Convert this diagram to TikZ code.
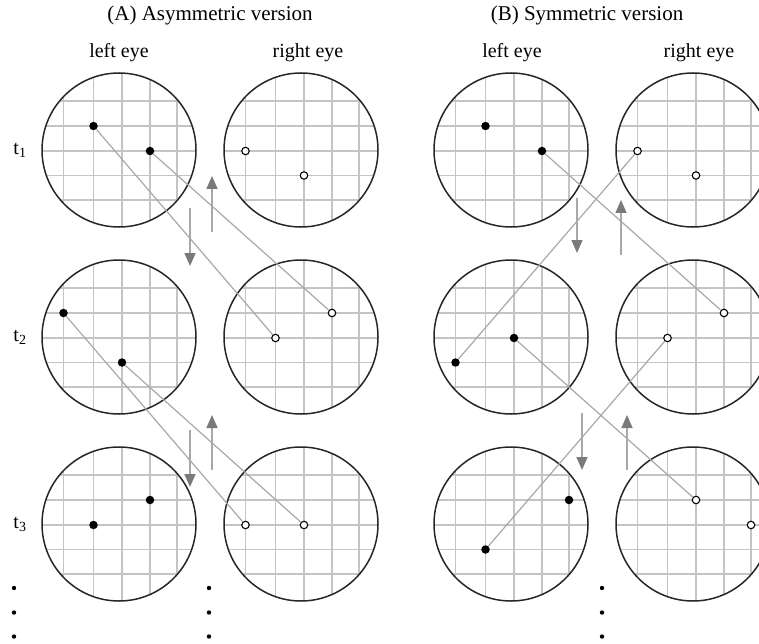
\documentclass[tikz,border=0pt]{standalone}
\usepackage{fontspec}
\setmainfont{Liberation Serif}
\usetikzlibrary{arrows.meta}
\definecolor{GridGray}{HTML}{C4C4C4}
\definecolor{LinkGray}{HTML}{A8A8A8}
\definecolor{ArrowGray}{HTML}{7A7A7A}
\definecolor{RingBlack}{HTML}{262626}

\begin{document}
\begin{tikzpicture}[x=1pt, y=-1pt,
  eye/.pic={
    \begin{scope}
      \clip (0,0) circle[radius=77];
      \foreach \dx in {-55.5,-25.5,3,31,58}
        \draw[GridGray, line width=1.4pt] (\dx,-77) -- (\dx,77);
      \foreach \dy in {-49,-24,1,25.5,50}
        \draw[GridGray, line width=1.4pt] (-77,\dy) -- (77,\dy);
    \end{scope}
    \draw[RingBlack, line width=1.5pt] (0,0) circle[radius=77];
  },
  fdot/.style={circle, fill=black, inner sep=0pt, minimum size=8.5pt},
  odot/.style={circle, draw=black, fill=white, line width=1.1pt, inner sep=0pt, minimum size=7.5pt},
  link/.style={LinkGray, line width=1.2pt},
  move/.style={-{Triangle[length=13pt, width=11pt, color=ArrowGray]}, LinkGray, line width=1.6pt},
  title/.style={font=\fontsize{21}{24}\selectfont},
  eyelabel/.style={font=\fontsize{20}{23}\selectfont},
  tlabel/.style={font=\fontsize{20}{23}\selectfont}
]
\useasboundingbox (0,0) rectangle (759,644);

% headings
\node[title]    (ttla) at (210,15)  {(A) Asymmetric version};
\node[title]    (ttlb) at (587,15)  {(B) Symmetric version};
\node[eyelabel] (lea)  at (119,53)  {left eye};
\node[eyelabel] (rea)  at (308,53)  {right eye};
\node[eyelabel] (leb)  at (512,53)  {left eye};
\node[eyelabel] (reb)  at (699,53)  {right eye};
\node[tlabel]   (t1)   at (20,150)  {t\textsubscript{1}};
\node[tlabel]   (t2)   at (20,337)  {t\textsubscript{2}};
\node[tlabel]   (t3)   at (20,524)  {t\textsubscript{3}};

% eyes
\pic at (119,150) {eye}; \pic at (301,150) {eye};
\pic at (119,337) {eye}; \pic at (301,337) {eye};
\pic at (119,524) {eye}; \pic at (301,524) {eye};
\pic at (511,150) {eye}; \pic at (693,150) {eye};
\pic at (511,337) {eye}; \pic at (693,337) {eye};
\pic at (511,524) {eye}; \pic at (693,524) {eye};

% (A) points
\node[fdot] (a1l1) at (93.5,126) {};
\node[fdot] (a1l2) at (150,151)  {};
\node[odot] (a1r1) at (245.5,151) {};
\node[odot] (a1r2) at (304,175.5) {};
\node[fdot] (a2l1) at (63.5,313) {};
\node[fdot] (a2l2) at (122,362.5) {};
\node[odot] (a2r1) at (275.5,338) {};
\node[odot] (a2r2) at (332,313) {};
\node[fdot] (a3l1) at (93.5,525) {};
\node[fdot] (a3l2) at (150,500) {};
\node[odot] (a3r1) at (245.5,525) {};
\node[odot] (a3r2) at (304,525) {};

% (B) points
\node[fdot] (b1l1) at (485.5,126) {};
\node[fdot] (b1l2) at (542,151) {};
\node[odot] (b1r1) at (637.5,151) {};
\node[odot] (b1r2) at (696,175.5) {};
\node[fdot] (b2l1) at (455.5,362.5) {};
\node[fdot] (b2l2) at (514,338) {};
\node[odot] (b2r1) at (667.5,338) {};
\node[odot] (b2r2) at (724,313) {};
\node[fdot] (b3l1) at (485.5,549.5) {};
\node[fdot] (b3l2) at (569,500) {};
\node[odot] (b3r1) at (696,500) {};
\node[odot] (b3r2) at (751,525) {};

% correspondences
\draw[link] (a1l1) -- (a2r1);
\draw[link] (a1l2) -- (a2r2);
\draw[link] (a2l1) -- (a3r1);
\draw[link] (a2l2) -- (a3r2);
\draw[link] (b1l2) -- (b2r2);
\draw[link] (b1r1) -- (b2l1);
\draw[link] (b2l2) -- (b3r1);
\draw[link] (b2r1) -- (b3l1);

% time arrows
\coordinate (a12d0) at (190,208); \coordinate (a12d1) at (190,266);
\coordinate (a12u0) at (212,232); \coordinate (a12u1) at (212,176);
\coordinate (a23d0) at (190,430); \coordinate (a23d1) at (190,487);
\coordinate (a23u0) at (212,470); \coordinate (a23u1) at (212,415);
\coordinate (b12d0) at (577,198); \coordinate (b12d1) at (577,253);
\coordinate (b12u0) at (621,255); \coordinate (b12u1) at (621,200);
\coordinate (b23d0) at (582,413); \coordinate (b23d1) at (582,470);
\coordinate (b23u0) at (627,470); \coordinate (b23u1) at (627,415);
\draw[move] (a12d0) -- (a12d1);
\draw[move] (a12u0) -- (a12u1);
\draw[move] (a23d0) -- (a23d1);
\draw[move] (a23u0) -- (a23u1);
\draw[move] (b12d0) -- (b12d1);
\draw[move] (b12u0) -- (b12u1);
\draw[move] (b23d0) -- (b23d1);
\draw[move] (b23u0) -- (b23u1);

% continuation dots
\foreach \cx in {14,209,602}
  \fill (\cx,588) circle[radius=2.2] (\cx,612.5) circle[radius=2.2] (\cx,636.5) circle[radius=2.2];
\end{tikzpicture}
\end{document}
